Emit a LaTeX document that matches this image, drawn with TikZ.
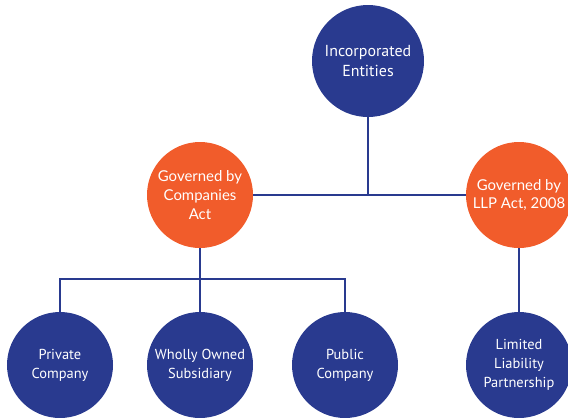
\documentclass[tikz,border=0pt]{standalone}
\usepackage{fontspec}
\setmainfont{Lato}
\newfontfamily\entfont{PT Sans}
\usepackage{xcolor}
\usepackage{tikz}
\usetikzlibrary{positioning}
\definecolor{navy}{RGB}{41,58,143}
\definecolor{tang}{RGB}{241,92,43}

\begin{document}
\begin{tikzpicture}[x=1bp,y=-1bp,
        ent/.style={circle,fill=navy,text=white,minimum size=108bp,inner sep=0pt,
                    align=center,font=\entfont\fontsize{14.5}{19}\selectfont},
        gov/.style={circle,fill=tang,text=white,minimum size=106bp,inner sep=0pt,
                    align=center,font=\fontsize{15}{19}\selectfont},
        link/.style={draw=navy,line width=1.7bp}]
        \useasboundingbox (0,0) rectangle (568,417);
        \node[ent,minimum size=112bp,font=\entfont\fontsize{16}{19.5}\selectfont]
          (inc) at (368,61) {Incorporated\\Entities};
        \node[gov] (cact) at (200,195) {Governed by\\Companies\\Act};
        \node[gov] (llpact) at (519,195) {Governed by\\LLP Act, 2008};
        \foreach \n/\x/\lbl in {priv/60/Private\\Company,
                                whol/200/Wholly Owned\\Subsidiary,
                                pub/345/Public\\Company,
                                llp/519/Limited\\Liability\\Partnership}{
          \node[ent,minimum size=106bp] (\n) at (\x,365) {\lbl};
        }
        \coordinate (bar) at (200,279);
        \draw[link] (cact.east) -- (llpact.west);
        \draw[link] (inc) -- (inc |- cact.east);
        \draw[link] (cact) -- (whol);
        \draw[link] (priv) |- (bar) -| (pub);
        \draw[link] (llpact) -- (llp);
      \end{tikzpicture}
\end{document}
